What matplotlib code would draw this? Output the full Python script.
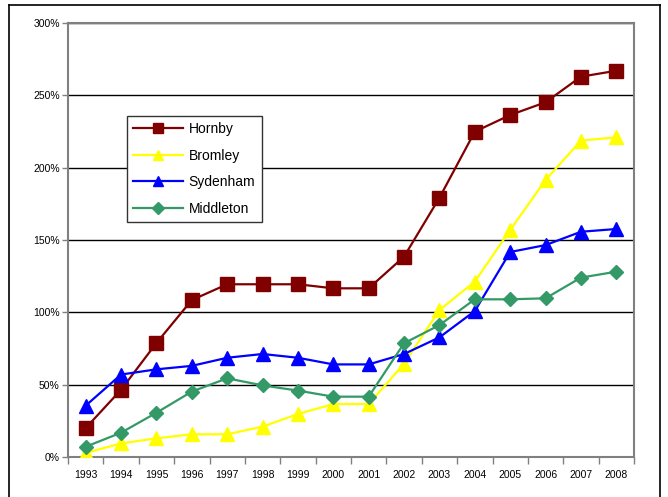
import matplotlib
matplotlib.use("Agg")
import matplotlib.pyplot as plt
from matplotlib.lines import Line2D
from matplotlib.ticker import FuncFormatter

plt.rcParams["font.family"] = ["Liberation Sans", "DejaVu Sans"]

#Years and percentage growth per area
years = [str(y) for y in range(1993, 2009)]
hornby = [20, 46.5, 78.8, 108.5, 119.4, 119.4, 119.4, 116.6, 116.6,
          138.5, 179.2, 224.9, 236.4, 245.2, 262.9, 267]
bromley = [2.8, 9.4, 12.9, 15.7, 15.7, 21, 29.7, 36.6, 36.6,
           64.5, 101.6, 121.2, 156.9, 191.5, 218.7, 221]
sydenham = [35.5, 57, 60.6, 63, 68.6, 71.2, 68.6, 64, 64,
            71.2, 82.7, 100.9, 141.7, 146.5, 155.7, 157.6]
middleton = [7.1, 16.8, 30.6, 45.2, 54.4, 49.5, 45.9, 41.7, 41.7,
             78.6, 91.2, 109, 109, 109.7, 124, 128.1]

W, H = 668, 497
fig = plt.figure(figsize=(W / 100, H / 100), dpi=100)

#Outer frame round the whole chart
for xs, ys in [([9, 9], [497, 5]), ([9, 660], [5, 5]), ([660, 660], [5, 497])]:
    fig.add_artist(Line2D([x / W for x in xs], [1 - y / H for y in ys],
                          color="black", lw=1.2, transform=fig.transFigure))

ax = fig.add_axes([68 / W, 1 - 457 / H, (634 - 68) / W, (457 - 23) / H])

x = list(range(len(years)))
ax.plot(x, hornby, color="#800000", lw=1.6, marker="s", ms=9.5, label="Hornby", zorder=3)
ax.plot(x, bromley, color="#FFFF00", lw=1.6, marker="^", ms=10, label="Bromley", zorder=3)
ax.plot(x, sydenham, color="#0000FF", lw=1.6, marker="^", ms=10, label="Sydenham", zorder=4)
ax.plot(x, middleton, color="#339966", lw=1.6, marker="D", ms=7.5, label="Middleton", zorder=5)

ax.set_xlim(-0.5, len(years) - 0.5)
ax.set_ylim(0, 300)
ax.set_yticks(range(0, 301, 50))
ax.yaxis.set_major_formatter(FuncFormatter(lambda v, p: "%d%%" % v))
ax.set_xticks(x)
ax.set_xticklabels(years)
ax.set_xticks([i + 0.5 for i in range(-1, len(years))], minor=True)
ax.tick_params(axis="x", which="major", length=0, labelsize=7.5, pad=9)
ax.tick_params(axis="x", which="minor", length=5, color="#808080", width=1)
ax.tick_params(axis="y", length=4, color="#808080", width=1, labelsize=7.5, pad=2)

ax.grid(axis="y", color="black", lw=1)
ax.set_axisbelow(True)
for side in ax.spines.values():
    side.set_color("#808080")
    side.set_linewidth(1.5)

fig.legend(loc="upper left", bbox_to_anchor=(127 / W, 1 - 116 / H), borderaxespad=0,
           fontsize=10, handlelength=3.6, labelspacing=0.9, handletextpad=0.4,
           markerscale=0.75, fancybox=False, edgecolor="#333333", framealpha=1,
           borderpad=0.45)

plt.savefig("out.png", dpi=100)
